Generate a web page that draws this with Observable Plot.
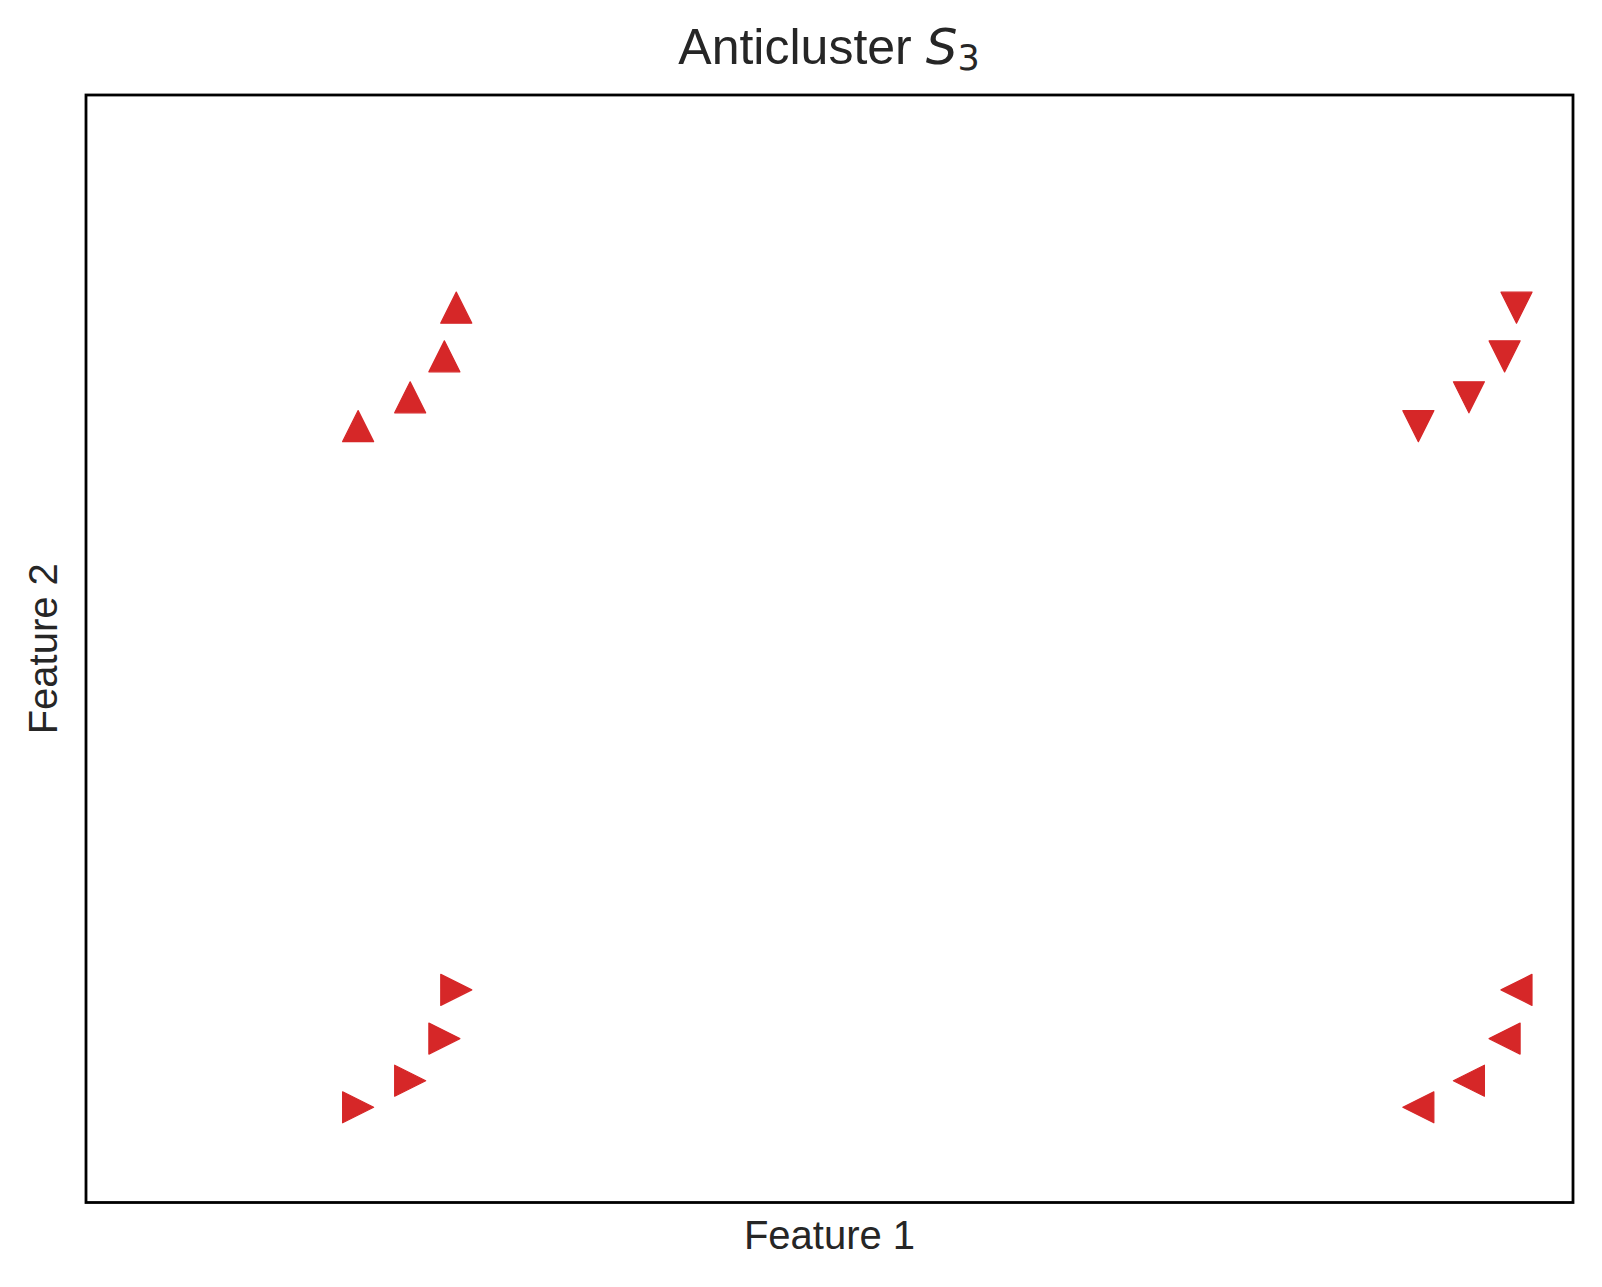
<!DOCTYPE html>
<html>
<head>
<meta charset="utf-8">
<script src="https://cdn.jsdelivr.net/npm/d3@7"></script>
<script src="https://cdn.jsdelivr.net/npm/@observablehq/plot@0.6"></script>
<style>
  html, body { margin: 0; padding: 0; background: #fff; }
  #page { position: relative; width: 1602px; height: 1287px; }
  #title {
    position: absolute; left: 85.5px; width: 1487px; top: 0px; height: 74px;
    text-align: center; font-family: "Liberation Sans", Arial, sans-serif;
    font-size: 50px; color: #262626; line-height: 50px; padding-top: 22px; box-sizing: border-box;
  }
  #title .m { font-family: "DejaVu Sans", sans-serif; font-style: italic; }
  #title sub { font-family: "DejaVu Sans", sans-serif; font-style: normal; font-size: 0.7em; vertical-align: -0.18em; line-height: 0; }
  #chart { position: absolute; left: 0; top: 74px; }
</style>
</head>
<body>
<div id="page">
  <div id="title">Anticluster <span class="m">S</span><sub>3</sub></div>
  <div id="chart"></div>
</div>
<script>
// Data (arbitrary units on a 0–10 frame)
const upX = [2.49, 2.41, 2.18, 1.83];
const upY = [8.08, 7.64, 7.27, 7.01];
const downX = [9.62, 9.54, 9.30, 8.96];
const downY = [8.08, 7.64, 7.27, 7.01];
const rightX = [2.49, 2.41, 2.18, 1.83];
const rightY = [1.92, 1.48, 1.10, 0.86];
const leftX = [9.62, 9.54, 9.30, 8.96];
const leftY = [1.92, 1.48, 1.10, 0.86];
const xLabel = "Feature 1";
const yLabel = "Feature 2";

const pts = (xs, ys) => xs.map((x, i) => ({x, y: ys[i]}));

const H = 15.5;
function tri(dir) {
  return {
    draw(ctx) {
      if (dir === "up") { ctx.moveTo(0, -H); ctx.lineTo(H, H); ctx.lineTo(-H, H); }
      else if (dir === "down") { ctx.moveTo(0, H); ctx.lineTo(H, -H); ctx.lineTo(-H, -H); }
      else if (dir === "right") { ctx.moveTo(H, 0); ctx.lineTo(-H, H); ctx.lineTo(-H, -H); }
      else { ctx.moveTo(-H, 0); ctx.lineTo(H, H); ctx.lineTo(H, -H); }
      ctx.closePath();
    }
  };
}

const red = "#d62728";
const dotOpts = (sym) => ({x: "x", y: "y", symbol: tri(sym), fill: red, stroke: red, strokeWidth: 1.2, strokeLinejoin: "round"});

const chart = Plot.plot({
  width: 1602,
  height: 1213,
  marginLeft: 85.5,
  marginRight: 29.5,
  marginTop: 20.5,
  marginBottom: 85,
  style: {background: "#fff", fontFamily: "'Liberation Sans', Arial, sans-serif"},
  x: {domain: [0, 10], axis: null},
  y: {domain: [0, 10], axis: null},
  marks: [
    Plot.dot(pts(upX, upY), dotOpts("up")),
    Plot.dot(pts(downX, downY), dotOpts("down")),
    Plot.dot(pts(rightX, rightY), dotOpts("right")),
    Plot.dot(pts(leftX, leftY), dotOpts("left")),
    Plot.frame({stroke: "#000", strokeWidth: 2.8}),
    Plot.text([xLabel], {text: d => d, frameAnchor: "bottom", lineAnchor: "top", dy: 18.5, fontSize: 40, fill: "#262626"}),
    Plot.text([yLabel], {text: d => d, frameAnchor: "left", rotate: -90, textAnchor: "middle", lineAnchor: "middle", dx: -41.5, fontSize: 40, fill: "#262626"})
  ]
});
document.getElementById("chart").appendChild(chart);
</script>
</body>
</html>
